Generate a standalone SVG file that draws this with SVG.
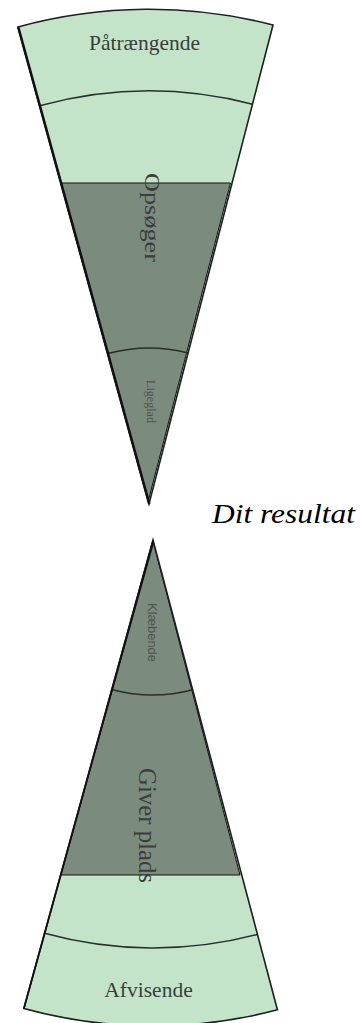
<svg xmlns="http://www.w3.org/2000/svg" width="360" height="1023" viewBox="0 0 360 1023">
  <style>
    .light { fill: #c4e4c9; stroke: none; }
    .dark { fill: #7b8b7e; stroke: #111; stroke-width: 1; }
    .outline { fill: none; stroke: #1e1e1e; stroke-width: 1.6; stroke-linejoin: miter; }
    .edge { fill: none; stroke: #111; stroke-width: 2.6; stroke-linecap: round; }
    .arc { fill: none; stroke: #2a2f2b; stroke-width: 1.6; }
    .serif { font-family: "Liberation Serif", "Times New Roman", serif; }
    .sans { font-family: "Liberation Sans", Arial, sans-serif; }
    .lbl { fill: #3a3d3b; }
    .small { fill: #4e5550; }
  </style>
  <rect width="360" height="1023" fill="#ffffff"/>

  <g id="top-wedge">
    <path class="light" d="M149,504 L18,27 A495,495 0 0 1 273,25 Z"/>
    <path class="dark" d="M60.8,183 L230.5,183 L148.5,500 Z"/>
    <path class="arc" d="M39.6,105.8 A413,413 0 0 1 252.5,104.2"/>
    <path class="arc" d="M107.7,353.6 A156,156 0 0 1 188.1,353"/>
    <path class="outline" d="M149,504 L18,27 A495,495 0 0 1 273,25 Z"/>
    <path class="edge" d="M18.5,28 L149,503"/>
  </g>

  <g id="bottom-wedge">
    <path class="light" d="M153,540 L23.9,1008.5 A486,486 0 0 0 277.4,1009.8 Z"/>
    <path class="dark" d="M153.5,543 L60.7,875 L240,875 Z"/>
    <path class="arc" d="M111.8,689.4 A155,155 0 0 0 192.7,689.8"/>
    <path class="arc" d="M44.6,933.3 A408,408 0 0 0 257.4,934.4"/>
    <path class="outline" d="M153,540 L23.9,1008.5 A486,486 0 0 0 277.4,1009.8 Z"/>
    <path class="edge" style="stroke-width:1.8" d="M153,541 L24,1008"/>
  </g>

  <g id="labels">
    <text id="paatraengende" class="serif lbl" x="144.5" y="50" font-size="21.5" text-anchor="middle">Påtrængende</text>
    <text id="opsoeger" class="serif lbl" transform="translate(145,173) rotate(90)" font-size="21" textLength="89" lengthAdjust="spacingAndGlyphs">Opsøger</text>
    <text id="ligeglad" class="serif small" transform="translate(147,380) rotate(90)" font-size="11.5" textLength="43" lengthAdjust="spacingAndGlyphs">Ligeglad</text>
    <text id="dit-resultat" class="serif" x="212" y="523" font-size="28" font-style="italic" fill="#000" textLength="143" lengthAdjust="spacingAndGlyphs">Dit resultat</text>
    <text id="klaebende" class="sans small" transform="translate(147.5,603) rotate(90)" font-size="13" textLength="59" lengthAdjust="spacingAndGlyphs">Klæbende</text>
    <text id="giver-plads" class="serif lbl" transform="translate(138.5,768) rotate(90)" font-size="25.5" textLength="115" lengthAdjust="spacingAndGlyphs">Giver plads</text>
    <text id="afvisende" class="serif lbl" x="148.5" y="997" font-size="21.5" text-anchor="middle">Afvisende</text>
  </g>
</svg>
